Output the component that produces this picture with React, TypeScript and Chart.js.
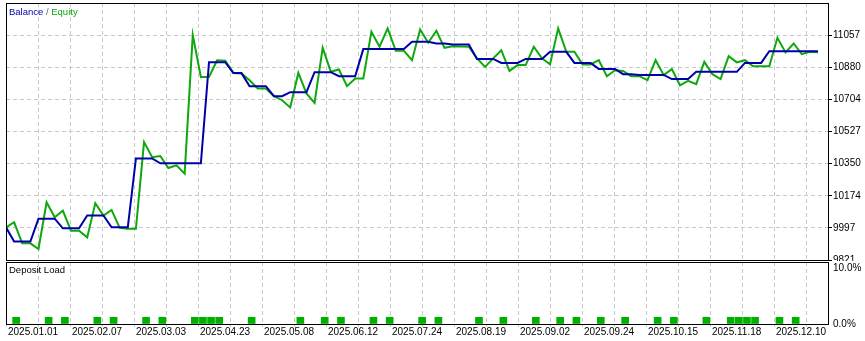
import React, { useEffect, useRef } from "react";
import { Chart, registerables } from "chart.js";

Chart.register(...registerables);

// ---- data (index = deal point on the tester graph) ----
const balance = [
  10000, 9922, 9922, 9922, 10048, 10048, 10048, 9995, 9995, 9995,
  10065, 10065, 10065, 10000, 10000, 10000, 10379, 10379, 10379, 10352,
  10352, 10352, 10352, 10352, 10352, 10908, 10908, 10908, 10848, 10848,
  10776, 10776, 10776, 10721, 10721, 10743, 10743, 10743, 10853, 10853,
  10853, 10831, 10831, 10831, 10980, 10980, 10980, 10980, 10980, 10980,
  11020, 11020, 11020, 11011, 11011, 11005, 11005, 11005, 10926, 10926,
  10926, 10904, 10904, 10904, 10926, 10926, 10926, 10965, 10965, 10965,
  10904, 10904, 10904, 10871, 10871, 10871, 10842, 10842, 10838, 10838,
  10838, 10838, 10815, 10815, 10815, 10855, 10855, 10855, 10855, 10855,
  10855, 10904, 10904, 10904, 10968, 10968, 10968, 10968, 10968, 10968,
  10968,
];

const equity = [
  10000, 10028, 9912, 9912, 9881, 10138, 10056, 10092, 9982, 9982,
  9945, 10133, 10065, 10096, 9997, 9993, 9992, 10469, 10386, 10392,
  10326, 10341, 10295, 11057, 10827, 10827, 10919, 10916, 10849, 10846,
  10809, 10763, 10763, 10721, 10699, 10659, 10849, 10736, 10684, 10987,
  10855, 10868, 10776, 10818, 10818, 11075, 10993, 11094, 10971, 10971,
  10919, 11088, 11015, 11081, 10987, 10996, 10994, 10993, 10929, 10882,
  10929, 10974, 10860, 10892, 10892, 10993, 10929, 10897, 11094, 10965,
  10965, 10896, 10896, 10919, 10831, 10864, 10860, 10831, 10831, 10809,
  10919, 10837, 10870, 10781, 10805, 10787, 10910, 10842, 10815, 10941,
  10907, 10919, 10886, 10886, 10886, 11042, 10962, 11011, 10952, 10965,
  10962,
];

const loadPoints = [
  1, 5, 7, 11, 13, 17, 19, 23, 24, 25, 26, 30, 36, 39, 41, 45, 47, 51, 53,
  58, 61, 65, 68, 70, 73, 76, 80, 82, 86, 89, 90, 91, 92, 95, 97,
];
const loadValues = [
  1.2, 1.2, 1.2, 1.2, 1.2, 1.2, 1.2, 1.2, 1.2, 1.2, 1.2, 1.2, 1.2, 1.2, 1.2,
  1.2, 1.2, 1.2, 1.2, 1.2, 1.2, 1.2, 1.2, 1.2, 1.2, 1.2, 1.2, 1.2, 1.2, 1.2,
  1.2, 1.2, 1.2, 1.2, 1.2,
];

const dateLabels = [
  "2025.01.01", "2025.02.07", "2025.03.03", "2025.04.23", "2025.05.08",
  "2025.06.12", "2025.07.24", "2025.08.19", "2025.09.02", "2025.09.24",
  "2025.10.15", "2025.11.18", "2025.12.10",
];

const yTicks = [9820.6, 9997.2, 10173.8, 10350.4, 10527.0, 10703.6, 10880.2, 11056.8];
const Y_MIN = 9820.6;
const Y_MAX = 11233.4;
const loadTicks = [0, 10];
const LOAD_MAX = 11.07;

// ---- layout / style ----
const FONT = '"Liberation Sans", Arial, sans-serif';
const X_MAX = 101.23;
const GRID_STEP = (X_MAX * 32) / 822;
const gridValues = Array.from({ length: 26 }, (_, k) => k * GRID_STEP);
const BAR_SHIFT = 0.25;
const GRID_COLOR = "#c8c8c8";
const BALANCE_COLOR = "#0000a8";
const EQUITY_COLOR = "#0ea80e";
const LOAD_COLOR = "#00b000";

type Part = { text: string; color: string };

function makePanel(tx: number, ty: number, parts: Part[]) {
  return {
    id: "panelFrame",
    afterDraw(chart: any) {
      const { ctx, chartArea: a } = chart;
      ctx.save();
      ctx.strokeStyle = "#000";
      ctx.lineWidth = 1;
      const l = Math.round(a.left);
      const t = Math.round(a.top);
      const r = Math.round(a.right);
      const b = Math.round(a.bottom);
      ctx.strokeRect(l + 0.5, t + 0.5, r - l, b - t);
      ctx.font = `9.5px ${FONT}`;
      ctx.textBaseline = "middle";
      ctx.textAlign = "left";
      let x = tx;
      for (const p of parts) {
        ctx.fillStyle = p.color;
        ctx.fillText(p.text, x, ty);
        x += ctx.measureText(p.text).width;
      }
      ctx.restore();
    },
  };
}

export default function App() {
  const mainRef = useRef<HTMLCanvasElement | null>(null);
  const subRef = useRef<HTMLCanvasElement | null>(null);

  useEffect(() => {
    const tickFont = { family: FONT, size: 10, lineHeight: 1 };

    const main = new Chart(mainRef.current as HTMLCanvasElement, {
      type: "line",
      data: {
        datasets: [
          {
            label: "Balance",
            data: balance.map((v, i) => ({ x: i, y: v })),
            borderColor: BALANCE_COLOR,
            borderWidth: 2,
            pointRadius: 0,
            tension: 0,
          },
          {
            label: "Equity",
            data: equity.map((v, i) => ({ x: i, y: v })),
            borderColor: EQUITY_COLOR,
            borderWidth: 2,
            pointRadius: 0,
            tension: 0,
          },
        ],
      },
      options: {
        responsive: false,
        animation: false,
        events: [],
        layout: { padding: { top: 3, left: 6, right: 0, bottom: 1 } },
        plugins: { legend: { display: false }, tooltip: { enabled: false } },
        scales: {
          x: {
            type: "linear",
            min: 0,
            max: X_MAX,
            ticks: { display: false },
            grid: { color: GRID_COLOR, drawTicks: false },
            border: { display: false, dash: [4, 3] },
            afterBuildTicks: (s: any) => {
              s.ticks = gridValues.map((v) => ({ value: v }));
            },
            afterFit: (s: any) => {
              s.height = 0;
              s.paddingLeft = 0;
              s.paddingRight = 0;
            },
          },
          y: {
            position: "right",
            min: Y_MIN,
            max: Y_MAX,
            afterBuildTicks: (s: any) => {
              s.ticks = yTicks.map((v) => ({ value: v }));
            },
            ticks: {
              font: tickFont,
              color: "#000",
              padding: 1,
              callback: (v: any) => String(Math.round(Number(v))),
            },
            grid: { color: GRID_COLOR, tickLength: 4, tickColor: "#000" },
            border: { display: false, dash: [4, 3] },
            afterFit: (s: any) => {
              s.width = 37;
              s.paddingTop = 0;
              s.paddingBottom = 0;
            },
          },
        },
      } as any,
      plugins: [
        makePanel(9, 12, [
          { text: "Balance", color: BALANCE_COLOR },
          { text: " / ", color: "#6a5a8a" },
          { text: "Equity", color: EQUITY_COLOR },
        ]),
      ],
    });

    const sub = new Chart(subRef.current as HTMLCanvasElement, {
      type: "bar",
      data: {
        datasets: [
          {
            label: "Deposit Load",
            data: loadPoints.map((p, i) => ({ x: p + BAR_SHIFT, y: loadValues[i] })),
            backgroundColor: LOAD_COLOR,
            borderWidth: 0,
            barThickness: 7,
          },
        ],
      },
      options: {
        responsive: false,
        animation: false,
        events: [],
        layout: { padding: { top: 1, left: 6, right: 0, bottom: 0 } },
        plugins: { legend: { display: false }, tooltip: { enabled: false } },
        scales: {
          x: {
            type: "linear",
            min: 0,
            max: X_MAX,
            offset: false,
            afterBuildTicks: (s: any) => {
              s.ticks = gridValues.map((v) => ({ value: v }));
            },
            ticks: {
              autoSkip: false,
              maxRotation: 0,
              minRotation: 0,
              align: "start",
              labelOffset: 2,
              padding: 0,
              font: tickFont,
              color: "#000",
              callback: (_v: any, idx: number) =>
                idx % 2 === 0 && dateLabels[idx / 2] ? dateLabels[idx / 2] : "",
            },
            grid: { color: GRID_COLOR, tickLength: 3, tickColor: GRID_COLOR, offset: false },
            border: { display: false, dash: [4, 3] },
            afterFit: (s: any) => {
              s.height = 17;
              s.paddingLeft = 0;
              s.paddingRight = 0;
            },
          },
          y: {
            position: "right",
            min: 0,
            max: LOAD_MAX,
            afterBuildTicks: (s: any) => {
              s.ticks = loadTicks.map((v) => ({ value: v }));
            },
            ticks: {
              font: tickFont,
              color: "#000",
              padding: 1,
              callback: (v: any) => Number(v).toFixed(1) + "%",
            },
            grid: { drawOnChartArea: false, tickLength: 4, tickColor: "rgba(0,0,0,0)" },
            border: { display: false },
            afterFit: (s: any) => {
              s.width = 37;
              s.paddingTop = 0;
              s.paddingBottom = 0;
            },
          },
        },
      } as any,
      plugins: [makePanel(9, 9, [{ text: "Deposit Load", color: "#000" }])],
    });

    return () => {
      main.destroy();
      sub.destroy();
    };
  }, []);

  return (
    <div
      style={{
        position: "fixed",
        left: 0,
        top: 0,
        width: 865,
        height: 341,
        background: "#fff",
        overflow: "hidden",
      }}
    >
      <canvas
        ref={mainRef}
        width={865}
        height={261}
        style={{ position: "absolute", left: 0, top: 0, width: 865, height: 261 }}
      />
      <canvas
        ref={subRef}
        width={865}
        height={80}
        style={{
          position: "absolute",
          left: 0,
          top: 261,
          width: 865,
          height: 80,
          background: "#fff",
        }}
      />
    </div>
  );
}
